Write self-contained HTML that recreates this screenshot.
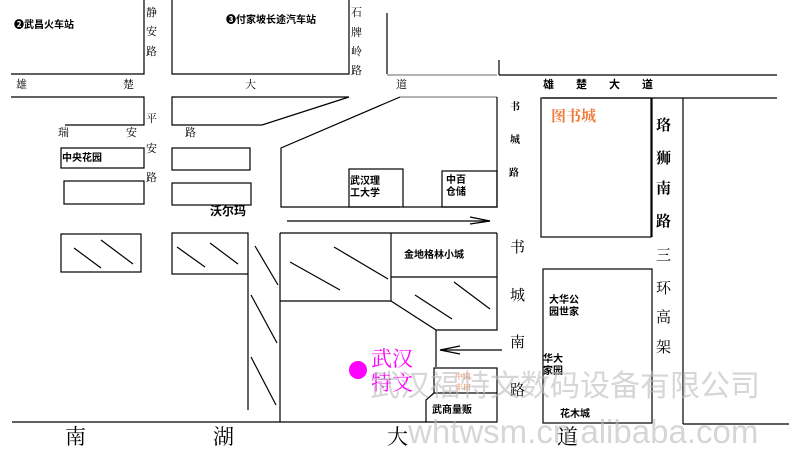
<!DOCTYPE html>
<html><head><meta charset="utf-8"><style>
html,body{margin:0;padding:0;background:#fff}
svg{display:block}
text{font-family:"Liberation Serif","Noto Serif CJK SC","Noto Sans CJK SC",serif}
.b{font-family:"Liberation Sans","Noto Sans CJK SC",sans-serif;font-weight:bold;font-size:10px;fill:#000}
.r{font-size:11px;fill:#000}
</style></head><body>
<svg width="789" height="469" viewBox="0 0 789 469" xmlns="http://www.w3.org/2000/svg">
<g stroke="#000" stroke-width="1.2" fill="none">
<polyline points="144,0 144,74 11,74"/>
<polyline points="172,0 172,74 349,74 349,0"/>
<polyline points="387,13 387,74"/>
<line x1="387" y1="75" x2="497" y2="75" stroke="#888"/>
<line x1="499" y1="60" x2="499" y2="75"/>
<line x1="499" y1="75" x2="777" y2="75"/>
<line x1="543" y1="98" x2="777" y2="98"/>
<polyline points="11,97 144,97 144,125 65,125"/>
<polyline points="349,97 172,97 172,125 262,125 349,97"/>
<polyline points="400,97 281,148 281,207 400,207"/>
<line x1="400" y1="97" x2="497" y2="97" stroke="#888"/>
<polyline points="497,97 497,207 403,207"/>
<rect x="349" y="169" width="54" height="38"/>
<rect x="442" y="171" width="55" height="36"/>
<line x1="287" y1="221" x2="490" y2="221"/>
<polyline points="470,217 490,221 470,224"/>
<rect x="61" y="148" width="83" height="20"/>
<rect x="64" y="181" width="80" height="23"/>
<rect x="172" y="148" width="78" height="22"/>
<rect x="172" y="183" width="79" height="22"/>
<rect x="61" y="234" width="80" height="38"/>
<rect x="172" y="233" width="76" height="41"/>
<line x1="248" y1="274" x2="248" y2="410"/>
<line x1="280" y1="233" x2="280" y2="422"/>
<line x1="280" y1="233" x2="497" y2="233"/>
<line x1="74" y1="248" x2="101" y2="268"/>
<line x1="101" y1="240" x2="133" y2="264"/>
<line x1="177" y1="247" x2="205" y2="267"/>
<line x1="210" y1="243" x2="238" y2="264"/>
<line x1="255" y1="246" x2="278" y2="285"/>
<line x1="251" y1="295" x2="277" y2="343"/>
<line x1="251" y1="357" x2="276" y2="405"/>
<line x1="290" y1="262" x2="340" y2="290"/>
<line x1="334" y1="247" x2="388" y2="279"/>
<polyline points="391,233 391,301 280,301"/>
<line x1="391" y1="277" x2="497" y2="277"/>
<polyline points="391,301 436,330 497,330 497,233"/>
<line x1="415" y1="295" x2="452" y2="319"/>
<line x1="454" y1="282" x2="490" y2="309"/>
<line x1="436" y1="330" x2="436" y2="367"/>
<line x1="440" y1="350" x2="502" y2="350"/>
<polyline points="460,346 440,350 460,354"/>
<rect x="434" y="368" width="63" height="25"/>
<polyline points="434,393 426,400 426,422 497,422 497,393"/>
<line x1="12" y1="422" x2="426" y2="422"/>
<rect x="541" y="98" width="110" height="139"/>
<line x1="652" y1="98" x2="652" y2="237"/>
<rect x="543" y="269" width="109" height="154"/>
<line x1="683" y1="98" x2="683" y2="424"/>
<line x1="683" y1="424" x2="789" y2="424"/>
</g>
<text class="b" x="14" y="28">❷武昌火车站</text>
<text class="b" x="226" y="23">❸付家坡长途汽车站</text>
<g class="r">
<text x="146" y="16">静</text><text x="146" y="35">安</text><text x="146" y="55">路</text>
<text x="351" y="16">石</text><text x="351" y="36">牌</text><text x="351" y="55">岭</text><text x="351" y="74">路</text>
<text x="16" y="88">雄</text><text x="123" y="88">楚</text><text x="245" y="88">大</text><text x="396" y="88">道</text>
<text x="146" y="122">平</text><text x="146" y="152">安</text><text x="146" y="181">路</text>
<text x="58" y="136">瑞</text><text x="126" y="136">安</text><text x="185" y="136">路</text>
</g>
<text class="b" x="62" y="161">中央花园</text>
<text class="b" x="210" y="215" style="font-size:12px">沃尔玛</text>
<text class="b" x="350" y="184">武汉理</text><text class="b" x="350" y="196">工大学</text>
<text class="b" x="446" y="183">中百</text><text class="b" x="446" y="195">仓储</text>
<text class="b" x="543" y="88" style="font-size:11px" letter-spacing="22">雄楚大道</text>
<text x="551" y="121" style="font-size:15px;fill:#f07a3a;font-weight:bold">图书城</text>
<g class="b" style="font-size:10px"><text x="510" y="110">书</text><text x="510" y="143">城</text><text x="509" y="176">路</text></g>
<g style="font-size:15px;font-weight:bold">
<text x="656" y="130">珞</text><text x="656" y="163">狮</text><text x="656" y="193">南</text><text x="656" y="226">路</text></g>
<g style="font-size:15px">
<text x="510" y="252">书</text><text x="510" y="300">城</text><text x="510" y="347">南</text><text x="510" y="395">路</text>
<text x="656" y="260">三</text><text x="656" y="293">环</text><text x="656" y="322">高</text><text x="656" y="352">架</text></g>
<text class="b" x="404" y="258">金地格林小城</text>
<text class="b" x="549" y="303">大华公</text><text class="b" x="549" y="315">园世家</text>
<text class="b" x="543" y="362">华大</text><text class="b" x="543" y="374">家园</text>
<text class="b" x="560" y="417">花木城</text>
<text class="b" x="432" y="413">武商量贩</text>
<text x="455" y="379" style="font-size:8px;fill:#f07a3a">中南</text>
<text x="455" y="390" style="font-size:8px;fill:#f07a3a">丰田</text>
<g style="font-size:21px">
<text x="65" y="444">南</text><text x="213" y="444">湖</text><text x="387" y="444">大</text><text x="557" y="444">道</text></g>
<circle cx="358" cy="370" r="9" fill="#ff00ff"/>
<text x="371" y="366" style="font-size:21px;fill:#ff00ff">武汉</text>
<text x="371" y="390" style="font-size:21px;fill:#ff00ff">特文</text>
<text x="370" y="396" style="font-family:'Liberation Sans','Noto Sans CJK SC',sans-serif;font-size:30px;fill:#bbb;opacity:0.6">武汉福特文数码设备有限公司</text>
<text x="408" y="443" style="font-family:'Liberation Sans',sans-serif;font-size:33px;fill:#bbb;opacity:0.6">whtwsm.cn.alibaba.com</text>
</svg>
</body></html>
